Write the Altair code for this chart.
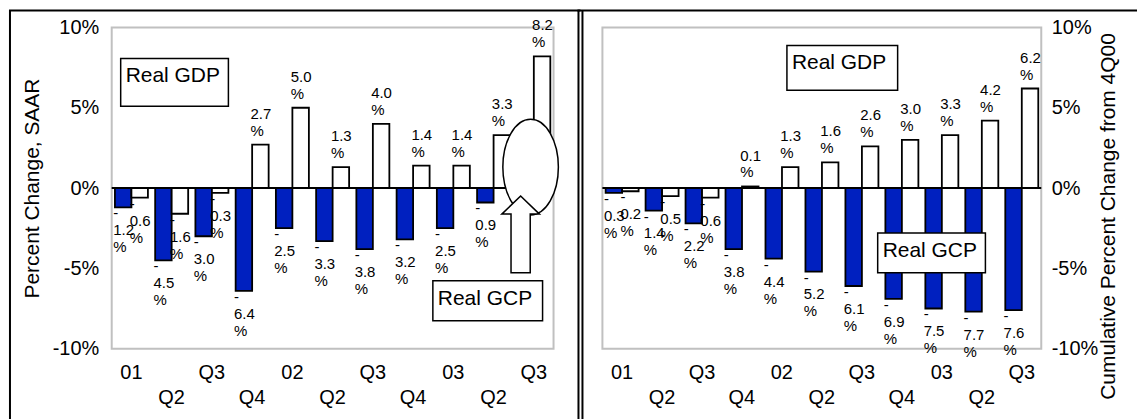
import altair as alt
import pandas as pd

# Quarters from 2001 Q1 to 2003 Q3 and their two-row tick labels
quarters = ["2001Q1", "2001Q2", "2001Q3", "2001Q4", "2002Q1", "2002Q2",
            "2002Q3", "2002Q4", "2003Q1", "2003Q2", "2003Q3"]
tick_labels = ["01", "Q2", "Q3", "Q4", "02", "Q2", "Q3", "Q4", "03", "Q2", "Q3"]

# Quarterly percent change, seasonally adjusted annual rate
gcp_saar = [-1.2, -4.5, -3.0, -6.4, -2.5, -3.3, -3.8, -3.2, -2.5, -0.9, None]
gdp_saar = [-0.6, -1.6, -0.3, 2.7, 5.0, 1.3, 4.0, 1.4, 1.4, 3.3, 8.2]

# Cumulative percent change from 4Q00
gcp_cum = [-0.3, -1.4, -2.2, -3.8, -4.4, -5.2, -6.1, -6.9, -7.5, -7.7, -7.6]
gdp_cum = [-0.2, -0.5, -0.6, 0.1, 1.3, 1.6, 2.6, 3.0, 3.3, 4.2, 6.2]

FONT = "Liberation Sans"
BLUE = "#0020bf"
W_LEFT, W_RIGHT, H = 443, 440, 322

# Block shapes in the unit square used by custom point symbols
ELLIPSE = "M0,-1 A0.58,1 0 1,1 0,1 A0.58,1 0 1,1 0,-1 Z"
ARROW = "M0,-1 L0.49,-0.53 L0.25,-0.53 L0.25,1 L-0.25,1 L-0.25,-0.53 L-0.49,-0.53 Z"


def long_frame(gcp, gdp):
    rows = []
    for q, a, b in zip(quarters, gcp, gdp):
        for s, v in (("GCP", a), ("GDP", b)):
            if v is None:
                continue
            lab = f"{v:.1f}\n%" if v >= 0 else f"-\n{abs(v):.1f}\n%"
            rows.append(dict(q=q, s=s, v=v, lab=lab))
    return pd.DataFrame(rows)


ticks_df = pd.DataFrame({"q": quarters, "lab": tick_labels,
                         "row": [i % 2 for i in range(len(quarters))]})

X = alt.X("q:N", sort=quarters, axis=None,
          scale=alt.Scale(paddingInner=0.18, paddingOuter=0.08))
XO = alt.XOffset("s:N", sort=["GCP", "GDP"])
COLOR = alt.Color("s:N", scale=alt.Scale(domain=["GCP", "GDP"], range=[BLUE, "white"]),
                  legend=None)


def y_enc(axis):
    return alt.Y("v:Q", scale=alt.Scale(domain=[-10, 10], nice=False), axis=axis)


def box(x1, x2, y1, y2, text):
    rect = alt.Chart(pd.DataFrame({"t": [text]})).mark_rect(
        fill="white", stroke="black", strokeWidth=1.5
    ).encode(x=alt.value(x1), x2=alt.value(x2), y=alt.value(y1), y2=alt.value(y2))
    label = alt.Chart(pd.DataFrame({"t": [text]})).mark_text(
        align="left", baseline="alphabetic", fontSize=21, font=FONT, color="black"
    ).encode(x=alt.value(x1 + 5), y=alt.value(y1 + 24), text="t:N")
    return [rect, label]


def hline(x1, x2, y):
    return alt.Chart(pd.DataFrame({"k": [0]})).mark_rule(
        color="black", strokeWidth=2
    ).encode(x=alt.value(x1), x2=alt.value(x2), y=alt.value(y))


def vline(x, y1, y2):
    return alt.Chart(pd.DataFrame({"k": [0]})).mark_rule(
        color="black", strokeWidth=2
    ).encode(x=alt.value(x), y=alt.value(y1), y2=alt.value(y2))


def panel(df, axis):
    base = alt.Chart(df)
    bars = base.mark_bar(stroke="black", strokeWidth=1.8).encode(
        x=X, xOffset=XO, y=y_enc(axis), color=COLOR
    )
    zero = alt.Chart(pd.DataFrame({"v": [0]})).mark_rule(
        color="black", strokeWidth=2
    ).encode(y=y_enc(axis))
    pos = base.transform_filter("datum.v >= 0").mark_text(
        align="left", baseline="bottom", dx=-10, dy=-23, fontSize=15,
        lineHeight=17, lineBreak="\n", font=FONT, color="black"
    ).encode(x=X, xOffset=XO, y=y_enc(axis), text="lab:N")
    neg = base.transform_filter("datum.v < 0").mark_text(
        align="left", baseline="top", dx=-10, dy=-1, fontSize=15,
        lineHeight=17, lineBreak="\n", font=FONT, color="black"
    ).encode(x=X, xOffset=XO, y=y_enc(axis), text="lab:N")
    row1 = alt.Chart(ticks_df).transform_filter("datum.row == 0").mark_text(
        fontSize=20, font=FONT, color="black", baseline="alphabetic"
    ).encode(x=X, y=alt.value(H + 30), text="lab:N")
    row2 = alt.Chart(ticks_df).transform_filter("datum.row == 1").mark_text(
        fontSize=20, font=FONT, color="black", baseline="alphabetic"
    ).encode(x=X, y=alt.value(H + 56), text="lab:N")
    return [bars, zero, pos, neg, row1, row2]


left_axis = alt.Axis(
    values=[-10, -5, 0, 5, 10], labelExpr="datum.value + '%'", ticks=False,
    domain=False, grid=False, labelFontSize=20, labelPadding=13, labelFlush=False,
    labelColor="black", title="Percent Change, SAAR", titleFontSize=21,
    titleFontWeight="normal", titleColor="black", titlePadding=10,
)
right_axis = alt.Axis(
    orient="right", values=[-10, -5, 0, 5, 10], labelExpr="datum.value + '%'",
    ticks=False, domain=False, grid=False, labelFontSize=20, labelPadding=10,
    labelFlush=False, labelColor="black",
    title="Cumulative Percent Change from 4Q00", titleFontSize=21,
    titleFontWeight="normal", titleColor="black", titlePadding=0,
    titleAngle=270, titleBaseline="top", titleY=189,
)

# Annotation shapes for the latest quarter in the left panel
ellipse = alt.Chart(pd.DataFrame({"k": [0]})).mark_point(
    shape=ELLIPSE, size=96 * 96, filled=True, fill="white", stroke="black",
    strokeWidth=1.5, opacity=1
).encode(x=alt.value(420), y=alt.value(140))
arrow = alt.Chart(pd.DataFrame({"k": [0]})).mark_point(
    shape=ARROW, size=77 * 77, filled=True, fill="white", stroke="black",
    strokeWidth=1.5, opacity=1
).encode(x=alt.value(410), y=alt.value(207.5))

left_layers = panel(long_frame(gcp_saar, gdp_saar), left_axis)
left_layers += box(9, 117, 31, 79, "Real GDP")
left_layers += [ellipse, arrow]
left_layers += box(322, 432, 254, 294, "Real GCP")
left_layers += [vline(-102, -17, 393), hline(-103, 470, -17)]
left = alt.layer(*left_layers).properties(width=W_LEFT, height=H)

right_layers = panel(long_frame(gcp_cum, gdp_cum), right_axis)
right_layers += box(185, 296, 18, 63, "Real GDP")
right_layers += box(276, 384, 206, 246, "Real GCP")
right_layers += [vline(-24, -17, 393), vline(-20, -17, 393), hline(-25, 536, -17)]
right = alt.layer(*right_layers).properties(width=W_RIGHT, height=H)

chart = alt.hconcat(
    left, right, spacing=49, bounds="flush",
    padding={"left": 7, "top": 8, "right": 0, "bottom": 0},
).configure(font=FONT).configure_view(stroke="#c0c0c0", strokeWidth=2)

chart.save("out.html", embed_options={"renderer": "svg", "actions": False})
